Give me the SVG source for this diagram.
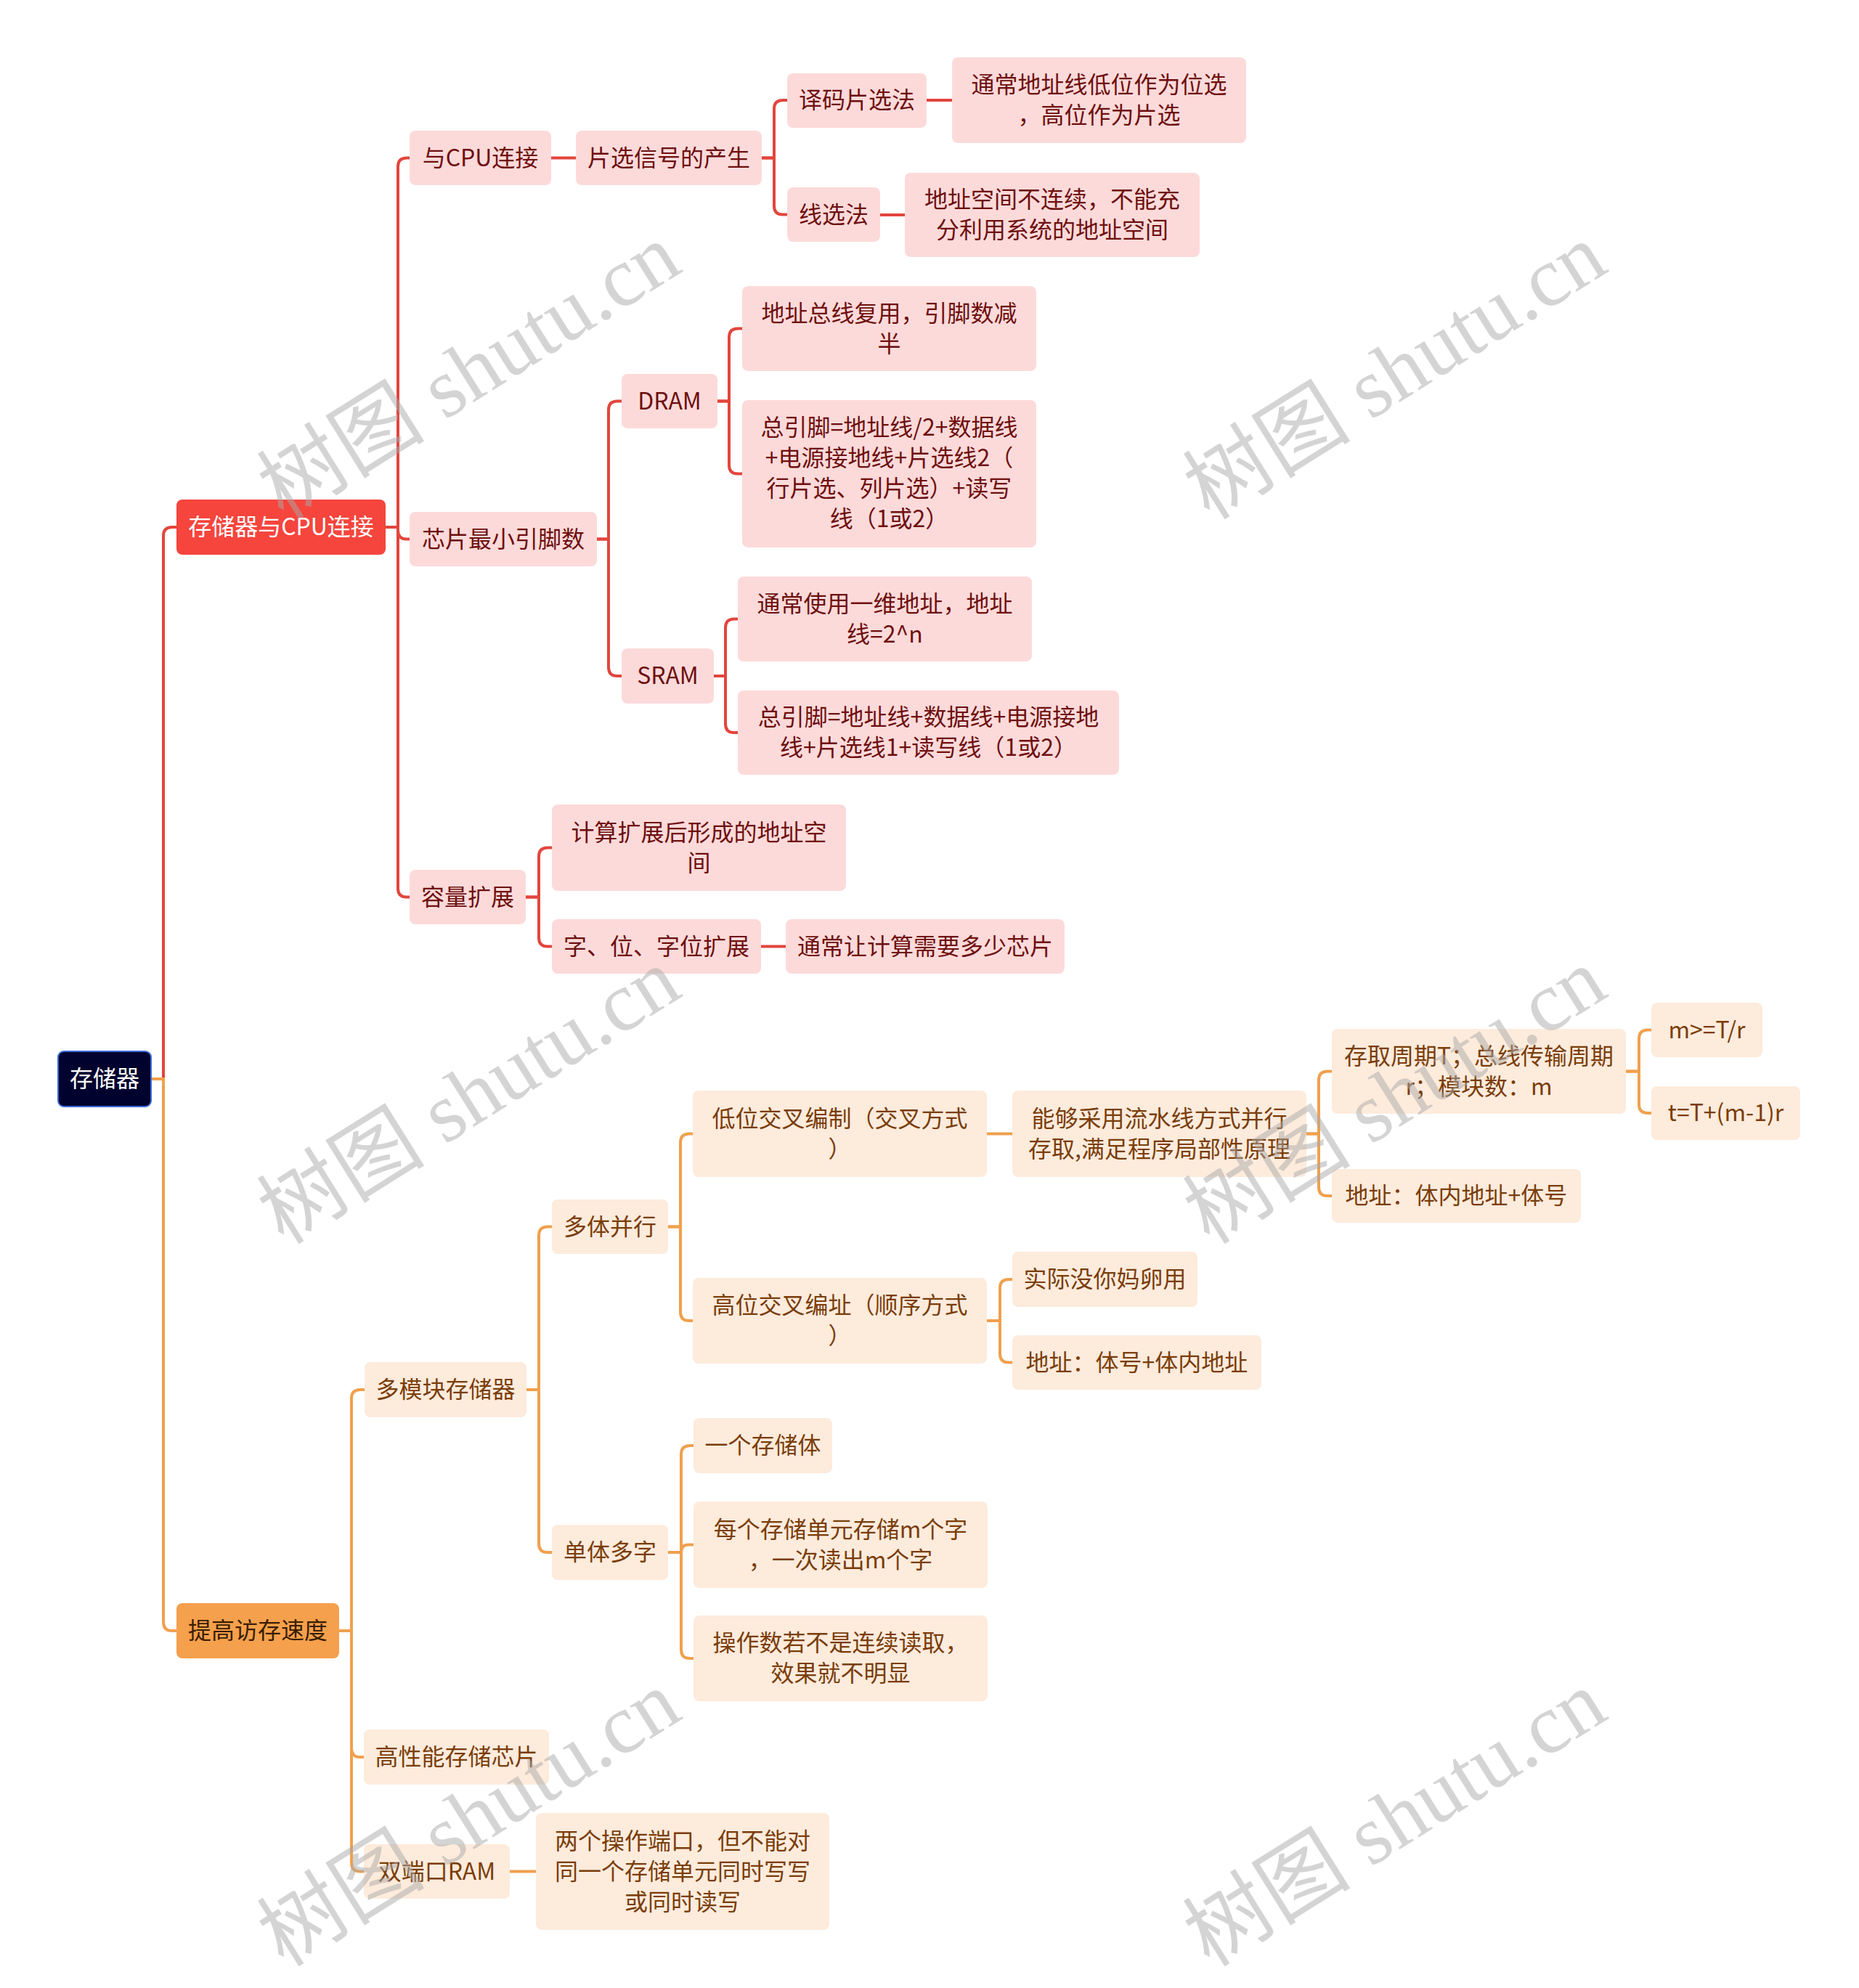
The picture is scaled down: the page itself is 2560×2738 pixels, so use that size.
<svg xmlns="http://www.w3.org/2000/svg" width="2560" height="2738" viewBox="0 0 2560 2738">
<style>
.n text{font-family:"Noto Sans CJK SC","Noto Sans",sans-serif;font-size:32px;text-anchor:middle;dominant-baseline:central;transform:translateY(-3px)}
.red rect{fill:#fddada}
.red text{fill:#6e0f0f}
.org rect{fill:#fdebdc}
.org text{fill:#7a3d0a}
.lr rect{fill:#f5453d}
.lr text{fill:#ffffff}
.lo rect{fill:#f5a04c}
.lo text{fill:#3a1d00}
.root rect{fill:#02022e;stroke:#3a6ad4;stroke-width:2}
.root text{fill:#ffffff}
.cr{stroke:#e2453d;stroke-width:4;fill:none}
.co{stroke:#f0a04e;stroke-width:4;fill:none}
.wm{font-family:"Liberation Serif","Noto Sans CJK SC",serif;font-size:116px;fill:#aaaaaa;opacity:0.5;text-anchor:middle;dominant-baseline:central}
</style>
<rect x="0" y="0" width="2560" height="2738" fill="#ffffff"/>
<g id="connectors">
<path class="cr" d="M208 1486 H225 V738 Q225 726 237 726 H243"/>
<path class="co" d="M208 1486 H225 V2234 Q225 2246 237 2246 H243"/>
<path class="cr" d="M531 726 H548 V229.5 Q548 217.5 560 217.5 H564"/>
<path class="cr" d="M531 726 H548 V730.5 Q548 742.5 560 742.5 H564"/>
<path class="cr" d="M531 726 H548 V1223.5 Q548 1235.5 560 1235.5 H564"/>
<path class="cr" d="M759 217.5 H793"/>
<path class="cr" d="M1049 217.5 H1066 V150 Q1066 138 1078 138 H1084"/>
<path class="cr" d="M1049 217.5 H1066 V283.5 Q1066 295.5 1078 295.5 H1084"/>
<path class="cr" d="M1276 138 H1311"/>
<path class="cr" d="M1212 296 H1246"/>
<path class="cr" d="M822 742.5 H838 V564.5 Q838 552.5 850 552.5 H856"/>
<path class="cr" d="M822 742.5 H838 V919 Q838 931 850 931 H856"/>
<path class="cr" d="M988 552.5 H1004 V464.5 Q1004 452.5 1016 452.5 H1022"/>
<path class="cr" d="M988 552.5 H1004 V640.5 Q1004 652.5 1016 652.5 H1022"/>
<path class="cr" d="M983 931 H999 V864.5 Q999 852.5 1011 852.5 H1016"/>
<path class="cr" d="M983 931 H999 V997 Q999 1009 1011 1009 H1016"/>
<path class="cr" d="M724 1235.5 H742 V1179.5 Q742 1167.5 754 1167.5 H760"/>
<path class="cr" d="M724 1235.5 H742 V1291.5 Q742 1303.5 754 1303.5 H760"/>
<path class="cr" d="M1048 1303.5 H1082"/>
<path class="co" d="M467 2246 H484 V1926 Q484 1914 496 1914 H502"/>
<path class="co" d="M467 2246 H484 V2408 Q484 2420 496 2420 H501"/>
<path class="co" d="M467 2246 H484 V2565.5 Q484 2577.5 496 2577.5 H501"/>
<path class="co" d="M702 2577.5 H738"/>
<path class="co" d="M725 1914 H742 V1701.5 Q742 1689.5 754 1689.5 H760"/>
<path class="co" d="M725 1914 H742 V2126 Q742 2138 754 2138 H760"/>
<path class="co" d="M920 1689.5 H937 V1573.5 Q937 1561.5 949 1561.5 H954"/>
<path class="co" d="M920 1689.5 H937 V1807 Q937 1819 949 1819 H954"/>
<path class="co" d="M1359 1561.5 H1394"/>
<path class="co" d="M1799 1561.5 H1816 V1487.5 Q1816 1475.5 1828 1475.5 H1834"/>
<path class="co" d="M1799 1561.5 H1816 V1635 Q1816 1647 1828 1647 H1834"/>
<path class="co" d="M2239 1475.5 H2257 V1430.5 Q2257 1418.5 2269 1418.5 H2274"/>
<path class="co" d="M2239 1475.5 H2257 V1521 Q2257 1533 2269 1533 H2274"/>
<path class="co" d="M1359 1819 H1377 V1774 Q1377 1762 1389 1762 H1394"/>
<path class="co" d="M1359 1819 H1377 V1864.5 Q1377 1876.5 1389 1876.5 H1394"/>
<path class="co" d="M920 2138 H938 V2003 Q938 1991 950 1991 H955"/>
<path class="co" d="M920 2138 H938 Q938 2127.5 948 2127.5 H955"/>
<path class="co" d="M920 2138 H938 V2272 Q938 2284 950 2284 H955"/>
</g>
<g id="root" class="n root"><rect x="80" y="1448" width="128" height="76" rx="8"/><text x="144" y="1486">存储器</text></g>
<g id="n-cpu" class="n lr"><rect x="243" y="688" width="288" height="76" rx="8"/><text x="387" y="726">存储器与CPU连接</text></g>
<g id="n-speed" class="n lo"><rect x="243" y="2208" width="224" height="76" rx="8"/><text x="355" y="2246">提高访存速度</text></g>
<g id="n-a1" class="n red"><rect x="564" y="180" width="195" height="75" rx="8"/><text x="661.5" y="217.5">与CPU连接</text></g>
<g id="n-a2" class="n red"><rect x="564" y="705" width="258" height="75" rx="8"/><text x="693" y="742.5">芯片最小引脚数</text></g>
<g id="n-a3" class="n red"><rect x="564" y="1198" width="160" height="75" rx="8"/><text x="644" y="1235.5">容量扩展</text></g>
<g id="n-pianxuan" class="n red"><rect x="793" y="180" width="256" height="75" rx="8"/><text x="921" y="217.5">片选信号的产生</text></g>
<g id="n-yima" class="n red"><rect x="1084" y="101" width="192" height="75" rx="8"/><text x="1180" y="138">译码片选法</text></g>
<g id="n-xianxuan" class="n red"><rect x="1084" y="258" width="128" height="75" rx="8"/><text x="1148" y="295.5">线选法</text></g>
<g id="n-yima-d" class="n red"><rect x="1311" y="79" width="405" height="118" rx="8"/><text x="1513.5" y="117">通常地址线低位作为位选</text><text x="1513.5" y="159">，高位作为片选</text></g>
<g id="n-xianxuan-d" class="n red"><rect x="1246" y="238" width="406" height="116" rx="8"/><text x="1449" y="275">地址空间不连续，不能充</text><text x="1449" y="317">分利用系统的地址空间</text></g>
<g id="n-dram" class="n red"><rect x="856" y="515" width="132" height="75" rx="8"/><text x="922" y="552.5">DRAM</text></g>
<g id="n-sram" class="n red"><rect x="856" y="893" width="127" height="76" rx="8"/><text x="919.5" y="931">SRAM</text></g>
<g id="n-dram1" class="n red"><rect x="1022" y="394" width="405" height="117" rx="8"/><text x="1224.5" y="431.5">地址总线复用，引脚数减</text><text x="1224.5" y="473.5">半</text></g>
<g id="n-dram2" class="n red"><rect x="1022" y="551" width="405" height="203" rx="8"/><text x="1224.5" y="589">总引脚=地址线/2+数据线</text><text x="1224.5" y="631">+电源接地线+片选线2（</text><text x="1224.5" y="673">行片选、列片选）+读写</text><text x="1224.5" y="715">线（1或2）</text></g>
<g id="n-sram1" class="n red"><rect x="1016" y="794" width="405" height="117" rx="8"/><text x="1218.5" y="831.5">通常使用一维地址，地址</text><text x="1218.5" y="873.5">线=2^n</text></g>
<g id="n-sram2" class="n red"><rect x="1016" y="951" width="525" height="116" rx="8"/><text x="1278.5" y="988">总引脚=地址线+数据线+电源接地</text><text x="1278.5" y="1030">线+片选线1+读写线（1或2）</text></g>
<g id="n-kuozhan1" class="n red"><rect x="760" y="1108" width="405" height="119" rx="8"/><text x="962.5" y="1146.5">计算扩展后形成的地址空</text><text x="962.5" y="1188.5">间</text></g>
<g id="n-kuozhan2" class="n red"><rect x="760" y="1266" width="288" height="75" rx="8"/><text x="904" y="1303.5">字、位、字位扩展</text></g>
<g id="n-kuozhan3" class="n red"><rect x="1082" y="1266" width="384" height="75" rx="8"/><text x="1274" y="1303.5">通常让计算需要多少芯片</text></g>
<g id="n-b1" class="n org"><rect x="502" y="1876" width="223" height="76" rx="8"/><text x="613.5" y="1914">多模块存储器</text></g>
<g id="n-b2" class="n org"><rect x="501" y="2382" width="255" height="76" rx="8"/><text x="628.5" y="2420">高性能存储芯片</text></g>
<g id="n-b3" class="n org"><rect x="501" y="2540" width="201" height="75" rx="8"/><text x="601.5" y="2577.5">双端口RAM</text></g>
<g id="n-b3d" class="n org"><rect x="738" y="2497" width="404" height="161" rx="8"/><text x="940" y="2535.5">两个操作端口，但不能对</text><text x="940" y="2577.5">同一个存储单元同时写写</text><text x="940" y="2619.5">或同时读写</text></g>
<g id="n-duoti" class="n org"><rect x="760" y="1652" width="160" height="75" rx="8"/><text x="840" y="1689.5">多体并行</text></g>
<g id="n-danti" class="n org"><rect x="760" y="2100" width="160" height="76" rx="8"/><text x="840" y="2138">单体多字</text></g>
<g id="n-diwei" class="n org"><rect x="954" y="1502" width="405" height="119" rx="8"/><text x="1156.5" y="1540.5">低位交叉编制（交叉方式</text><text x="1156.5" y="1582.5">）</text></g>
<g id="n-gaowei" class="n org"><rect x="954" y="1760" width="405" height="118" rx="8"/><text x="1156.5" y="1798">高位交叉编址（顺序方式</text><text x="1156.5" y="1840">）</text></g>
<g id="n-liushui" class="n org"><rect x="1394" y="1502" width="405" height="119" rx="8"/><text x="1596.5" y="1540.5">能够采用流水线方式并行</text><text x="1596.5" y="1582.5">存取,满足程序局部性原理</text></g>
<g id="n-zhouqi" class="n org"><rect x="1834" y="1417" width="405" height="117" rx="8"/><text x="2036.5" y="1454.5">存取周期T；总线传输周期</text><text x="2036.5" y="1496.5">r；模块数：m</text></g>
<g id="n-dizhi1" class="n org"><rect x="1834" y="1610" width="343" height="74" rx="8"/><text x="2005.5" y="1647">地址：体内地址+体号</text></g>
<g id="n-m" class="n org"><rect x="2274" y="1381" width="153" height="75" rx="8"/><text x="2350.5" y="1418.5">m&gt;=T/r</text></g>
<g id="n-t" class="n org"><rect x="2274" y="1496" width="205" height="74" rx="8"/><text x="2376.5" y="1533">t=T+(m-1)r</text></g>
<g id="n-shiji" class="n org"><rect x="1394" y="1724" width="255" height="76" rx="8"/><text x="1521.5" y="1762">实际没你妈卵用</text></g>
<g id="n-dizhi2" class="n org"><rect x="1394" y="1839" width="343" height="75" rx="8"/><text x="1565.5" y="1876.5">地址：体号+体内地址</text></g>
<g id="n-yige" class="n org"><rect x="955" y="1953" width="191" height="76" rx="8"/><text x="1050.5" y="1991">一个存储体</text></g>
<g id="n-meige" class="n org"><rect x="955" y="2068" width="405" height="119" rx="8"/><text x="1157.5" y="2106.5">每个存储单元存储m个字</text><text x="1157.5" y="2148.5">，一次读出m个字</text></g>
<g id="n-caozuo" class="n org"><rect x="955" y="2225" width="405" height="118" rx="8"/><text x="1157.5" y="2263">操作数若不是连续读取，</text><text x="1157.5" y="2305">效果就不明显</text></g>
<g id="watermark">
<text class="wm" transform="translate(646,512) rotate(-32)">树图 shutu.cn</text>
<text class="wm" transform="translate(1921,512) rotate(-32)">树图 shutu.cn</text>
<text class="wm" transform="translate(646,1510) rotate(-32)">树图 shutu.cn</text>
<text class="wm" transform="translate(1921,1510) rotate(-32)">树图 shutu.cn</text>
<text class="wm" transform="translate(646,2505) rotate(-32)">树图 shutu.cn</text>
<text class="wm" transform="translate(1921,2505) rotate(-32)">树图 shutu.cn</text>
</g>
</svg>
